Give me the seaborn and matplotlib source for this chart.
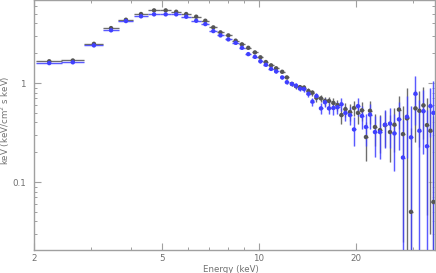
import numpy as np
import pandas as pd
import matplotlib
matplotlib.use("Agg")
import matplotlib.pyplot as plt
import seaborn as sns
from matplotlib.ticker import FixedLocator, FixedFormatter, LogLocator, NullFormatter

# ---- data ----
energy = [2.23, 2.64, 3.07, 3.47, 3.86, 4.30, 4.72, 5.13, 5.53, 5.94,
          6.38, 6.81, 7.21, 7.59, 8.03, 8.46, 8.85, 9.26, 9.71, 10.1,
          10.5, 10.9, 11.3, 11.8, 12.2, 12.65, 13.02, 13.40, 13.79, 14.24,
          14.65, 15.08, 15.57, 16.02, 16.49, 17.02, 17.52, 18.03, 18.55, 19.16,
          19.72, 20.29, 20.87, 21.48, 22.11, 22.91, 23.75, 24.61, 25.51, 26.34,
          27.20, 27.99, 28.80, 29.64, 30.61, 31.49, 32.41, 33.23, 34.07, 34.81]
half_width = [0.205, 0.21, 0.21, 0.195, 0.21, 0.215, 0.20, 0.21, 0.20, 0.21,
              0.22, 0.20, 0.20, 0.19, 0.20, 0.20, 0.19, 0.20, 0.21, 0.20,
              0.20, 0.20, 0.20, 0.20, 0.20, 0.19, 0.19, 0.20, 0.20, 0.21,
              0.21, 0.22, 0.23, 0.23, 0.24, 0.25, 0.26, 0.26, 0.27, 0.28,
              0.29, 0.29, 0.30, 0.31, 0.32, 0.33, 0.35, 0.36, 0.37, 0.38,
              0.39, 0.40, 0.42, 0.43, 0.44, 0.45, 0.47, 0.48, 0.49, 0.50]

flux_black = [1.66, 1.69, 2.49, 3.59, 4.36, 4.98, 5.42, 5.42, 5.25, 4.98,
              4.68, 4.26, 3.65, 3.25, 3.03, 2.68, 2.46, 2.27, 2.04, 1.82,
              1.63, 1.51, 1.41, 1.30, 1.14, 0.98, 0.93, 0.91, 0.90, 0.83,
              0.80, 0.71, 0.70, 0.66, 0.66, 0.63, 0.60, 0.475, 0.545, 0.51,
              0.56, 0.50, 0.53, 0.285, 0.525, 0.36, 0.335, 0.376, 0.32, 0.38,
              0.54, 0.305, 0.44, 0.050, 0.555, 0.525, 0.595, 0.376, 0.33, 0.063]
err_black = [0.04, 0.04, 0.05, 0.07, 0.08, 0.09, 0.09, 0.09, 0.09, 0.09,
             0.09, 0.08, 0.07, 0.07, 0.06, 0.06, 0.06, 0.05, 0.05, 0.05,
             0.05, 0.05, 0.05, 0.05, 0.05, 0.05, 0.05, 0.05, 0.05, 0.06,
             0.06, 0.06, 0.06, 0.07, 0.07, 0.08, 0.08, 0.09, 0.09, 0.10,
             0.10, 0.11, 0.12, 0.12, 0.14, 0.13, 0.14, 0.15, 0.16, 0.18,
             0.20, 0.28, 0.45, 0.30, 0.30, 0.30, 0.32, 0.33, 0.30, 0.40]

flux_blue = [1.59, 1.62, 2.40, 3.41, 4.23, 4.72, 4.94, 4.94, 4.94, 4.68,
             4.26, 3.94, 3.35, 3.03, 2.76, 2.55, 2.27, 1.96, 1.84, 1.66,
             1.53, 1.39, 1.31, 1.14, 1.02, 0.98, 0.94, 0.88, 0.87, 0.78,
             0.65, 0.74, 0.555, 0.64, 0.555, 0.56, 0.57, 0.61, 0.50, 0.475,
             0.34, 0.585, 0.465, 0.36, 0.48, 0.32, 0.32, 0.38, 0.39, 0.31,
             0.43, 0.177, 0.457, 0.283, 0.78, 0.33, 0.52, 0.23, 0.585, 0.50]
err_blue = [0.04, 0.04, 0.05, 0.07, 0.08, 0.09, 0.09, 0.09, 0.09, 0.09,
            0.09, 0.08, 0.07, 0.07, 0.06, 0.06, 0.06, 0.05, 0.05, 0.05,
            0.05, 0.05, 0.05, 0.05, 0.05, 0.05, 0.05, 0.05, 0.05, 0.06,
            0.06, 0.06, 0.07, 0.07, 0.07, 0.08, 0.08, 0.09, 0.09, 0.10,
            0.11, 0.12, 0.12, 0.13, 0.14, 0.14, 0.15, 0.16, 0.17, 0.18,
            0.22, 0.25, 0.28, 0.30, 0.40, 0.35, 0.33, 0.30, 0.30, 0.55]

x_major = [2, 5, 10, 20]
x_minor = [3, 4, 6, 7, 8, 9, 30]
y_major = [0.1, 1]
y_labels = ["0.1", "1"]

df = pd.DataFrame({
    "energy": energy * 2,
    "flux": flux_black + flux_blue,
    "set": ["black"] * len(energy) + ["blue"] * len(energy),
})

# ---- style ----
sns.set_style("ticks")
plt.rcParams["font.family"] = ["DejaVu Sans"]
axis_grey = "#a0a0a0"
text_grey = "#707070"

fig = plt.figure(figsize=(4.36, 2.73), dpi=100)
ax = fig.add_axes([34 / 436, 23 / 273, 401 / 436, 250 / 273])
ax.set_xscale("log")
ax.set_yscale("log")

colours = {"black": "#555555", "blue": "#4040ff"}
halo = {"black": "#c8c8c8", "blue": "#b4b4ff"}
series = {"black": (flux_black, err_black), "blue": (flux_blue, err_blue)}

for name, (flux, err) in series.items():
    # soft halo under the bars, then the bar itself
    ax.errorbar(energy, flux, xerr=half_width, yerr=err, fmt="none",
                ecolor=halo[name], elinewidth=2.2, capsize=0, alpha=0.5, zorder=2)
    ax.errorbar(energy, flux, xerr=half_width, yerr=err, fmt="none",
                ecolor=colours[name], elinewidth=0.7, capsize=0, alpha=0.85, zorder=3)

sns.scatterplot(data=df, x="energy", y="flux", hue="set", palette=colours,
                s=10, linewidth=0, legend=False, ax=ax, zorder=4)

ax.set_xlim(2, 35.2)
ax.set_ylim(0.0206, 6.9)

ax.xaxis.set_major_locator(FixedLocator(x_major))
ax.xaxis.set_major_formatter(FixedFormatter([str(v) for v in x_major]))
ax.xaxis.set_minor_locator(FixedLocator(x_minor))
ax.xaxis.set_minor_formatter(NullFormatter())
ax.yaxis.set_major_locator(FixedLocator(y_major))
ax.yaxis.set_major_formatter(FixedFormatter(y_labels))
ax.yaxis.set_minor_locator(LogLocator(base=10, subs=np.arange(2, 10)))
ax.yaxis.set_minor_formatter(NullFormatter())

ax.tick_params(which="both", direction="in", top=True, right=True,
               colors=axis_grey, labelcolor=text_grey, labelsize=6.3)
ax.tick_params(which="major", length=5, width=0.8)
ax.tick_params(which="minor", length=2.5, width=0.7)
ax.tick_params(axis="x", pad=3)
ax.tick_params(axis="y", pad=6)

for side in ["left", "right", "top", "bottom"]:
    ax.spines[side].set_visible(True)
    ax.spines[side].set_color(axis_grey)
    ax.spines[side].set_linewidth(1.0)

ax.set_xlabel("Energy (keV)", fontsize=6.2, color=text_grey, va="top")
ax.set_ylabel("keV (keV/cm$^2$ s keV)", fontsize=6.2, color=text_grey)
ax.xaxis.set_label_coords(0.49, -0.058)
ax.yaxis.set_label_coords(-0.055, 0.52)

fig.savefig("out.png", dpi=100)
